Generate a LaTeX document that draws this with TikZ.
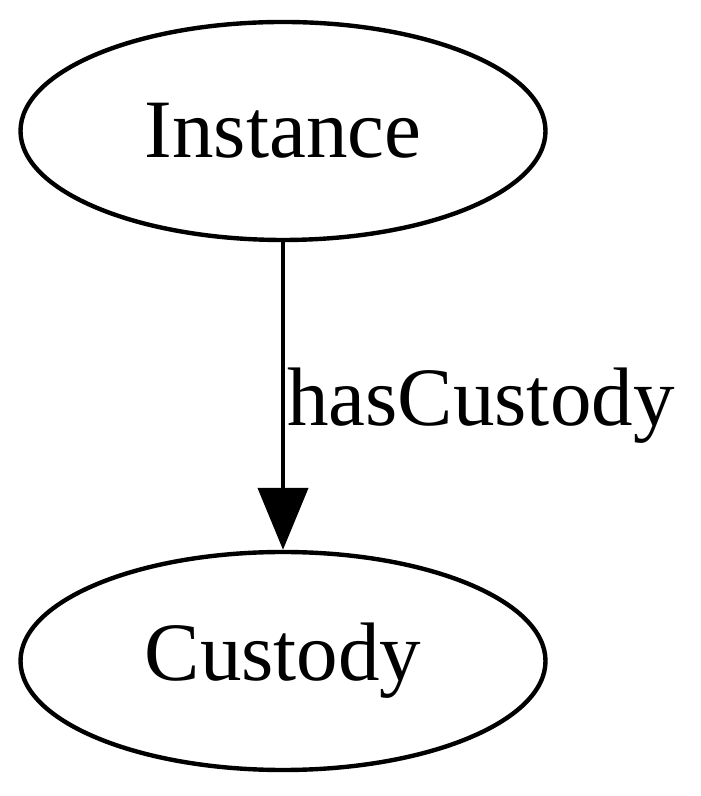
\documentclass[tikz,border=0pt]{standalone}
\usepackage{fontspec}
\setmainfont{Liberation Serif}
\usetikzlibrary{arrows.meta}
\usetikzlibrary{positioning,shapes.geometric}

\begin{document}
\begin{tikzpicture} [-{Triangle[length=31pt,width=25pt]},auto,node distance=265pt,line width=2.2pt,
    class/.style={ellipse,draw,minimum width=262.5pt,minimum height=109pt,inner sep=0pt,
      font=\fontsize{41.5}{50}\selectfont}]

  \useasboundingbox (0,0) rectangle (350pt,398pt);

  \node[class] (inst) at (141.5pt,332.5pt) {Instance};
  \node[class] (cust) [below of=inst] {Custody};

  \path[every node/.style={font=\fontsize{41.5}{50}\selectfont,inner sep=1pt}]
    (inst) edge node [pos=0.53,right] {hasCustody} (cust);
\end{tikzpicture}
\end{document}
